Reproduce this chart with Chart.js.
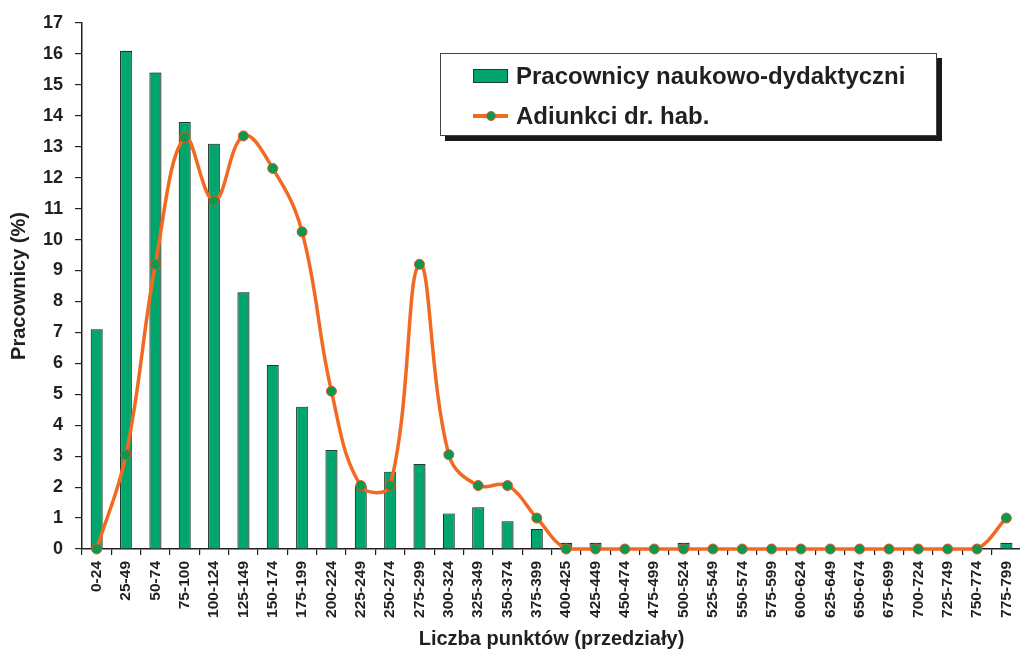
<!DOCTYPE html>
<html>
<head>
<meta charset="utf-8">
<script src="https://cdn.jsdelivr.net/npm/chart.js@4.4.1/dist/chart.umd.min.js"></script>
<style>
    html, body { margin: 0; background: #fff; overflow: hidden; }
    #wrap { position: relative; width: 1020px; height: 651px; overflow: hidden; }
    #legend {
        position: absolute; left: 440px; top: 53px; width: 497px; height: 83px;
        box-sizing: border-box; border: 1.5px solid #444; background: #fff;
        box-shadow: 5px 5px 0 #1a1a1a;
        font: bold 24px "Liberation Sans", Arial, sans-serif; color: #231f20;
    }
    .item { position: absolute; left: 32px; height: 30px; line-height: 30px; white-space: nowrap; }
    .item span.txt { position: absolute; left: 43px; top: 0; }
    .swatch { position: absolute; top: 8px; left: 0; width: 35px; height: 14px; box-sizing: border-box; }
    .lineSw { position: absolute; top: 13px; left: 0; width: 35px; height: 4px; }
    .dot { position: absolute; top: 10px; left: 13px; width: 10px; height: 10px; box-sizing: border-box; border-radius: 50%; }
</style>
</head>
<body>
<div id="wrap">
    <!-- canvas odrobinę szerszy niż okno: oś X dochodzi do prawej krawędzi -->
    <canvas id="chart" width="1027" height="651"></canvas>
    <div id="legend"></div>
</div>
<script>
// Przedziały punktowe (oś X)
const przedzialy = ["0-24", "25-49", "50-74", "75-100", "100-124", "125-149", "150-174", "175-199",
    "200-224", "225-249", "250-274", "275-299", "300-324", "325-349", "350-374", "375-399",
    "400-425", "425-449", "450-474", "475-499", "500-524", "525-549", "550-574", "575-599",
    "600-624", "625-649", "650-674", "675-699", "700-724", "725-749", "750-774", "775-799"];

// Pracownicy naukowo-dydaktyczni (%) - słupki
const naukowoDydaktyczni = [7.1, 16.1, 15.4, 13.8, 13.1, 8.3, 5.95, 4.6,
    3.2, 2.05, 2.5, 2.75, 1.15, 1.35, 0.9, 0.65,
    0.2, 0.2, 0, 0, 0.2, 0, 0, 0,
    0, 0, 0, 0, 0, 0, 0, 0.2];

// Adiunkci dr. hab. (%) - linia
const adiunkciDrHab = [0, 3.05, 9.2, 13.3, 11.25, 13.35, 12.3, 10.25,
    5.1, 2.05, 2.05, 9.2, 3.05, 2.05, 2.05, 1.0,
    0, 0, 0, 0, 0, 0, 0, 0,
    0, 0, 0, 0, 0, 0, 0, 1.0];

const yMin = 0, yMax = 17, yStep = 1;

const inkColor = "#231f20";
const fontFamily = "'Liberation Sans', Arial, sans-serif";

// cień po prawej stronie słupków
const barShadow = {
    id: "barShadow",
    beforeDatasetDraw(chart, args) {
        if (args.meta.type !== "bar") return;
        chart.ctx.save();
        chart.ctx.shadowColor = "rgba(120,120,120,0.6)";
        chart.ctx.shadowOffsetX = 2;
        chart.ctx.shadowOffsetY = 0;
        chart.ctx.shadowBlur = 1;
    },
    afterDatasetDraw(chart, args) {
        if (args.meta.type !== "bar") return;
        chart.ctx.restore();
    }
};

const ctx = document.getElementById("chart").getContext("2d");
const chart = new Chart(ctx, {
    type: "bar",
    data: {
        labels: przedzialy,
        datasets: [{
            type: "line",
            label: "Adiunkci dr. hab.",
            data: adiunkciDrHab,
            borderColor: "#f26a22",
            borderWidth: 3.5,
            tension: 0.4,
            pointRadius: 5,
            pointBackgroundColor: "#0b9a4c",
            pointBorderColor: "#ea4f2a",
            pointBorderWidth: 1,
            clip: false,
            order: 0
        }, {
            type: "bar",
            label: "Pracownicy naukowo-dydaktyczni",
            data: naukowoDydaktyczni,
            backgroundColor: "#00a66c",
            borderColor: "#1f3a2c",
            borderWidth: 1.2,
            categoryPercentage: 1,
            barPercentage: 0.41,
            order: 1
        }]
    },
    options: {
        responsive: false,
        animation: false,
        layout: { padding: { top: 23, right: 0, bottom: 0, left: 0 } },
        plugins: {
            legend: { display: false },
            tooltip: { enabled: false }
        },
        scales: {
            x: {
                grid: { offset: true, drawOnChartArea: false, color: inkColor, tickLength: 6, lineWidth: 1.2 },
                border: { color: inkColor, width: 1.5 },
                ticks: {
                    minRotation: 90, maxRotation: 90, autoSkip: false, padding: 6,
                    color: inkColor, font: { family: fontFamily, size: 15.5, weight: "bold" }
                },
                title: {
                    display: true, text: "Liczba punktów (przedziały)", color: inkColor,
                    padding: { top: 4, bottom: 0 },
                    font: { family: fontFamily, size: 20, weight: "bold" }
                },
                afterFit(scale) {
                    scale.height = 102;
                    scale.paddingLeft = 0;
                    scale.paddingRight = 0;
                }
            },
            y: {
                min: yMin, max: yMax,
                grid: { drawOnChartArea: false, color: inkColor, tickLength: 7, lineWidth: 1.2 },
                border: { color: inkColor, width: 1.5 },
                ticks: {
                    stepSize: yStep, padding: 12, color: inkColor,
                    font: { family: fontFamily, size: 18, weight: "bold" }
                },
                title: {
                    display: true, text: "Pracownicy (%)", color: inkColor,
                    padding: { top: 7, bottom: 0 },
                    font: { family: fontFamily, size: 20, weight: "bold" }
                },
                afterFit(scale) { scale.width = 82; }
            }
        }
    },
    plugins: [barShadow]
});

// legenda w ramce z cieniem
function buildLegend() {
    const box = document.getElementById("legend");
    const sets = chart.data.datasets.slice().sort((a, b) => b.order - a.order);
    sets.forEach((ds, i) => {
        const item = document.createElement("div");
        item.className = "item";
        item.style.top = (7 + i * 40) + "px";
        if (ds.type === "bar") {
            item.innerHTML = '<div class="swatch" style="background:' + ds.backgroundColor +
                ';border:1.5px solid ' + ds.borderColor + '"></div>';
        } else {
            item.innerHTML = '<div class="lineSw" style="background:' + ds.borderColor + '"></div>' +
                '<div class="dot" style="background:' + ds.pointBackgroundColor +
                ';border:1px solid ' + ds.pointBorderColor + '"></div>';
        }
        const txt = document.createElement("span");
        txt.className = "txt";
        txt.textContent = ds.label;
        item.appendChild(txt);
        box.appendChild(item);
    });
}
buildLegend();
</script>
</body>
</html>
